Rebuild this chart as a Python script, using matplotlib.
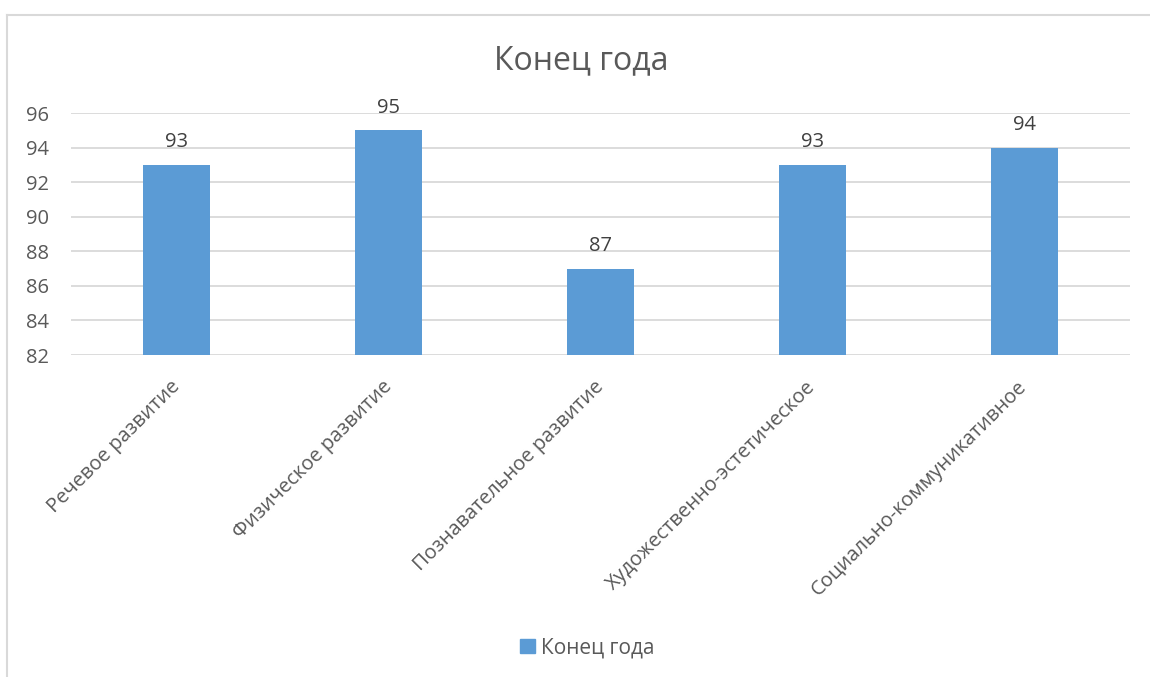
import matplotlib
matplotlib.use("Agg")
import matplotlib.pyplot as plt
from matplotlib.lines import Line2D
from matplotlib.patches import Patch

categories = ["Речевое развитие", "Физическое развитие", "Познавательное развитие",
              "Художественно-эстетическое", "Социально-коммуникативное"]
values = [93, 95, 87, 93, 94]
yticks = [82, 84, 86, 88, 90, 92, 94, 96]
series_name = "Конец года"

bar_color = "#5B9BD5"
text_color = "#595959"
label_color = "#404040"
grid_color = "#D9D9D9"

plt.rcParams["font.family"] = ["Open Sans", "DejaVu Sans"]

fig = plt.figure(figsize=(11.5, 6.77), dpi=100)
ax = fig.add_axes([0.0617, 0.4756, 0.9209, 0.3574])

x = list(range(len(categories)))
bars = ax.bar(x, values, width=0.316, color=bar_color, zorder=3)
ax.set_ylim(82, 96)
ax.set_xlim(-0.5, len(categories) - 0.5)
ax.set_yticks(yticks)
ax.yaxis.grid(True, color=grid_color, linewidth=1.3, zorder=0)
ax.tick_params(axis="y", length=0, labelsize=14.5, labelcolor=text_color, pad=16)
ax.tick_params(axis="x", length=0)
for s in ax.spines.values():
    s.set_visible(False)

ax.set_xticks(x)
ax.set_xticklabels(categories, rotation=45, ha="right", rotation_mode="anchor",
                   fontsize=14.5, color=text_color)
for lbl in ax.get_xticklabels():
    lbl.set_va("center")
ax.tick_params(axis="x", pad=21)

for xi, v in zip(x, values):
    ax.annotate(str(v), (xi, v), xytext=(0, 9), textcoords="offset points",
                ha="center", va="bottom", fontsize=14.5, color=label_color)

fig.text(0.505, 0.91, series_name, ha="center", va="center", fontsize=23, color=text_color)

fig.legend(handles=[Patch(color=bar_color, label=series_name)], loc="center",
           bbox_to_anchor=(0.511, 0.043), frameon=False, fontsize=15,
           handlelength=0.7, handleheight=0.7, handletextpad=0.3, labelcolor=text_color)

# chart border
fig.add_artist(Line2D([0.006, 1.0], [0.978, 0.978], color=grid_color, linewidth=1.5, transform=fig.transFigure))
fig.add_artist(Line2D([0.006, 0.006], [0.0, 0.978], color=grid_color, linewidth=1.5, transform=fig.transFigure))

fig.savefig("out.png", dpi=100)
